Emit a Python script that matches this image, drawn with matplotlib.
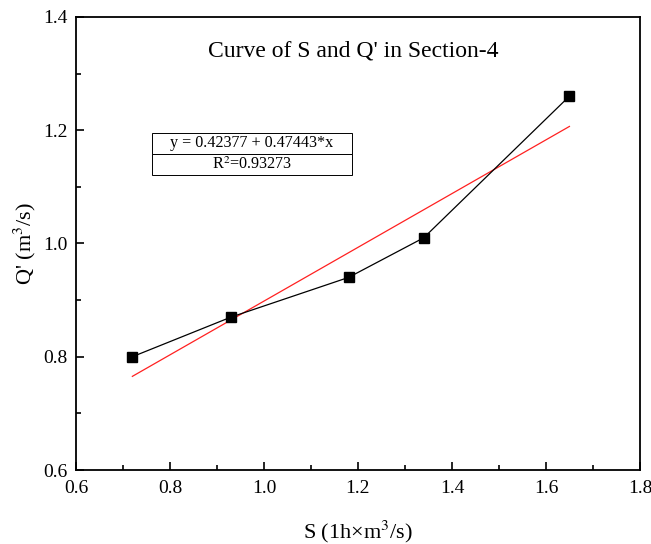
import numpy as np
import matplotlib.pyplot as plt
from matplotlib.ticker import MultipleLocator

plt.rcParams['font.family'] = ['Liberation Serif', 'DejaVu Serif']
plt.rcParams['mathtext.fontset'] = 'stix'

# data
s = [0.72, 0.93, 1.18, 1.34, 1.65]
q = [0.80, 0.87, 0.94, 1.01, 1.26]
intercept = 0.42377
slope = 0.47443
r2 = 0.93273

fig = plt.figure(figsize=(6.51, 5.44), dpi=100)
ax = fig.add_axes([0.1167, 0.136, 0.8663, 0.833])

ax.plot(s, q, color='black', lw=0.9, marker='s', ms=7.5, zorder=3)
xfit = np.array([min(s), max(s)])
ax.plot(xfit, intercept + slope * xfit, color='#ff2020', lw=0.9, zorder=2)

ax.set_xlim(0.6, 1.8)
ax.set_ylim(0.6, 1.4)
ax.xaxis.set_major_locator(MultipleLocator(0.2))
ax.xaxis.set_minor_locator(MultipleLocator(0.1))
ax.yaxis.set_major_locator(MultipleLocator(0.2))
ax.yaxis.set_minor_locator(MultipleLocator(0.1))
ax.tick_params(which='both', direction='in', top=False, right=False, labelsize=14)
ax.tick_params(which='major', length=6, width=1.2)
ax.tick_params(which='minor', length=3.5, width=1.2)
ax.tick_params(axis='x', pad=7)
ax.tick_params(axis='y', pad=6)
for sp in ax.spines.values():
    sp.set_linewidth(1.3)

ax.set_xlabel('S (1h×m$^3$/s)', fontsize=16, labelpad=16)
ax.set_ylabel("Q' (m$^3$/s)", fontsize=16, labelpad=4)

ax.text(0.491, 0.925, "Curve of S and Q' in Section-4", transform=ax.transAxes,
        ha='center', va='center', fontsize=17)

tbl = ax.table(cellText=[['y = %.5f + %.5f*x' % (intercept, slope)],
                         ['R$^2$=%.5f' % r2]],
               cellLoc='center', bbox=[0.135, 0.651, 0.354, 0.093])
tbl.auto_set_font_size(False)
tbl.set_fontsize(11.6)
for cell in tbl.get_celld().values():
    cell.set_linewidth(0.7)

fig.savefig('out.png', dpi=100)
